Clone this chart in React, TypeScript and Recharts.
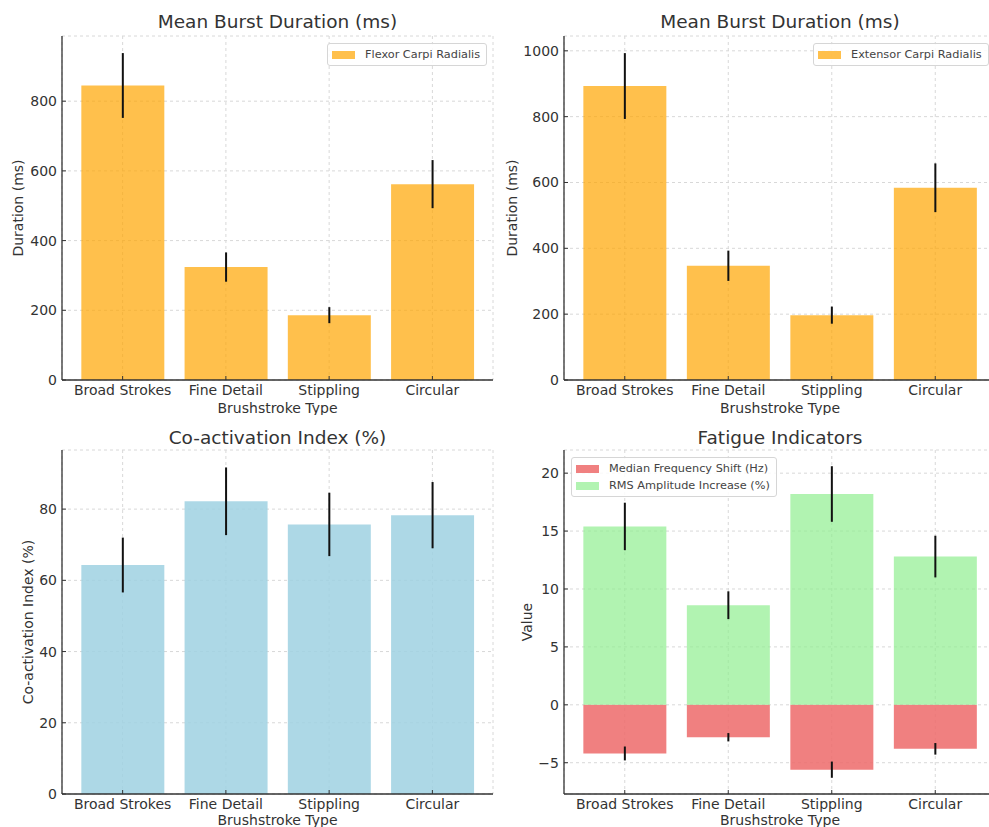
import React from "react";
import {
    BarChart,
    Bar,
    XAxis,
    YAxis,
    CartesianGrid,
    ErrorBar,
    Legend,
} from "recharts";

const categories = ["Broad Strokes", "Fine Detail", "Stippling", "Circular"];

const flexorDuration = [845, 324, 186, 562];
const flexorErr = [93, 42, 23, 69];
const extensorDuration = [893, 347, 197, 584];
const extensorErr = [100, 46, 26, 74];

const coactivation = [64.3, 82.2, 75.7, 78.3];
const coactivationErr = [7.7, 9.5, 8.9, 9.3];

const mfShift = [-4.2, -2.8, -5.6, -3.8];
const mfShiftErr = [0.6, 0.36, 0.7, 0.5];
const rmsIncrease = [15.4, 8.6, 18.2, 12.8];
const rmsErr = [2.05, 1.2, 2.4, 1.8];

const flexorTicks = [0, 200, 400, 600, 800];
const extensorTicks = [0, 200, 400, 600, 800, 1000];
const coTicks = [0, 20, 40, 60, 80];
const fatigueTicks = [-5, 0, 5, 10, 15, 20];

const FONT = "'DejaVu Sans', sans-serif";
const TEXT = "#333333";

const flexorData = categories.map((c, i) => ({ cat: c, value: flexorDuration[i], err: flexorErr[i] }));
const extensorData = categories.map((c, i) => ({ cat: c, value: extensorDuration[i], err: extensorErr[i] }));
const coData = categories.map((c, i) => ({ cat: c, value: coactivation[i], err: coactivationErr[i] }));
const fatigueData = categories.map((c, i) => ({
    cat: c,
    mf: mfShift[i],
    mfErr: mfShiftErr[i],
    rms: rmsIncrease[i],
    rmsErr: rmsErr[i],
}));

const fmt = (v: number) => String(v).replace("-", "\u2212");

function LegendBox(props: any) {
    const items = props.payload || [];
    return (
        <div
            style={{
                background: "rgba(255,255,255,0.85)",
                border: "1px solid #d6d6d6",
                borderRadius: 3,
                padding: "2px 6px 2px 4px",
                fontFamily: FONT,
                fontSize: 11.3,
                color: "#444",
                whiteSpace: "nowrap",
            }}
        >
            {items.map((it: any) => (
                <div key={it.value} style={{ display: "flex", alignItems: "center", height: 17 }}>
                    <span
                        style={{
                            display: "inline-block",
                            width: 23,
                            height: 8,
                            background: it.payload?.fill || it.color,
                            opacity: it.payload?.fillOpacity ?? 1,
                            marginRight: 10,
                        }}
                    />
                    {it.value}
                </div>
            ))}
        </div>
    );
}

type PanelProps = {
    left: number;
    top: number;
    width: number;
    height: number;
    xAxisHeight: number;
    yAxisWidth: number;
    marginTop: number;
    marginRight: number;
    title: string;
    titleY: number;
    yLabel: string;
    yLabelOffset: number;
    xLabelOffset: number;
    ticks: number[];
    domain: [number, number];
    legendPos?: { left: number; top: number };
    children: React.ReactNode;
    data: any[];
};

function Panel(p: PanelProps) {
    const plotLeft = p.yAxisWidth;
    const plotRight = p.width - p.marginRight;
    return (
        <div style={{ position: "absolute", left: p.left, top: p.top, width: p.width, height: p.height }}>
            <div
                style={{
                    position: "absolute",
                    left: plotLeft,
                    width: plotRight - plotLeft,
                    top: p.titleY - 12,
                    textAlign: "center",
                    fontFamily: FONT,
                    fontSize: 18.5,
                    color: TEXT,
                    lineHeight: "24px",
                }}
            >
                {p.title}
            </div>
            <BarChart
                width={p.width}
                height={p.height}
                data={p.data}
                margin={{ top: p.marginTop, right: p.marginRight, bottom: 0, left: 0 }}
                barCategoryGap="10%"
                stackOffset="sign"
                style={{ fontFamily: FONT }}
            >
                <CartesianGrid strokeDasharray="3 3" stroke="#d8d8d8" />
                <XAxis
                    dataKey="cat"
                    height={p.xAxisHeight}
                    padding={{ left: 9, right: 9 }}
                    axisLine={{ stroke: TEXT, strokeWidth: 1.3 }}
                    tickLine={{ stroke: TEXT }}
                    tickSize={-4}
                    tickMargin={9}
                    tick={{ fill: TEXT, fontSize: 14 }}
                    label={{
                        value: "Brushstroke Type",
                        position: "insideBottom",
                        offset: p.xLabelOffset,
                        style: { fill: TEXT, fontSize: 14 },
                    }}
                />
                <YAxis
                    width={p.yAxisWidth}
                    domain={p.domain}
                    ticks={p.ticks}
                    allowDataOverflow
                    tickFormatter={fmt}
                    axisLine={{ stroke: TEXT, strokeWidth: 1.3 }}
                    tickLine={{ stroke: TEXT }}
                    tickSize={-4}
                    tickMargin={9}
                    tick={{ fill: TEXT, fontSize: 14 }}
                    label={{
                        value: p.yLabel,
                        angle: -90,
                        position: "insideLeft",
                        offset: p.yLabelOffset,
                        style: { fill: TEXT, fontSize: 14, textAnchor: "middle" },
                    }}
                />
                {p.legendPos && (
                    <Legend
                        layout="horizontal"
                        verticalAlign="middle"
                        align="center"
                        content={LegendBox}
                        wrapperStyle={{ left: p.legendPos.left, top: p.legendPos.top, width: "auto" }}
                    />
                )}
                {p.children}
            </BarChart>
        </div>
    );
}

export default function App() {
    return (
        <div
            style={{
                position: "absolute",
                left: 0,
                top: 0,
                width: 989,
                height: 827,
                overflow: "hidden",
                background: "#ffffff",
            }}
        >
            <Panel
                left={0}
                top={0}
                width={495}
                height={415}
                xAxisHeight={35}
                yAxisWidth={62}
                marginTop={36}
                marginRight={2}
                title="Mean Burst Duration (ms)"
                titleY={22}
                yLabel="Duration (ms)"
                yLabelOffset={18}
                xLabelOffset={2}
                ticks={flexorTicks}
                domain={[0, 987]}
                legendPos={{ left: 327, top: 43 }}
                data={flexorData}
            >
                <Bar dataKey="value" name="Flexor Carpi Radialis" fill="#FFA500" fillOpacity={0.7} isAnimationActive={false}>
                    <ErrorBar dataKey="err" width={0} strokeWidth={2} stroke="#111" />
                </Bar>
            </Panel>
            <Panel
                left={495}
                top={0}
                width={505}
                height={415}
                xAxisHeight={35}
                yAxisWidth={69}
                marginTop={36}
                marginRight={4}
                title="Mean Burst Duration (ms)"
                titleY={22}
                yLabel="Duration (ms)"
                yLabelOffset={17}
                xLabelOffset={2}
                ticks={extensorTicks}
                domain={[0, 1045]}
                legendPos={{ left: 318, top: 43 }}
                data={extensorData}
            >
                <Bar dataKey="value" name="Extensor Carpi Radialis" fill="#FFA500" fillOpacity={0.7} isAnimationActive={false}>
                    <ErrorBar dataKey="err" width={0} strokeWidth={2} stroke="#111" />
                </Bar>
            </Panel>
            <Panel
                left={0}
                top={415}
                width={495}
                height={420}
                xAxisHeight={41}
                yAxisWidth={62}
                marginTop={35}
                marginRight={2}
                title="Co-activation Index (%)"
                titleY={23}
                yLabel="Co-activation Index (%)"
                yLabelOffset={28}
                xLabelOffset={10}
                ticks={coTicks}
                domain={[0, 96.6]}
                data={coData}
            >
                <Bar dataKey="value" name="Co-activation" fill="#9FD1E2" fillOpacity={0.85} isAnimationActive={false}>
                    <ErrorBar dataKey="err" width={0} strokeWidth={2} stroke="#111" />
                </Bar>
            </Panel>
            <Panel
                left={495}
                top={415}
                width={505}
                height={420}
                xAxisHeight={41}
                yAxisWidth={69}
                marginTop={35}
                marginRight={4}
                title="Fatigue Indicators"
                titleY={23}
                yLabel="Value"
                yLabelOffset={32}
                xLabelOffset={10}
                ticks={fatigueTicks}
                domain={[-7.7, 22]}
                legendPos={{ left: 76, top: 42 }}
                data={fatigueData}
            >
                <Bar dataKey="mf" name="Median Frequency Shift (Hz)" stackId="f" fill="#ED6A6A" fillOpacity={0.85} isAnimationActive={false}>
                    <ErrorBar dataKey="mfErr" width={0} strokeWidth={2} stroke="#111" />
                </Bar>
                <Bar dataKey="rms" name="RMS Amplitude Increase (%)" stackId="f" fill="#90EE90" fillOpacity={0.7} isAnimationActive={false}>
                    <ErrorBar dataKey="rmsErr" width={0} strokeWidth={2} stroke="#111" />
                </Bar>
            </Panel>
        </div>
    );
}
